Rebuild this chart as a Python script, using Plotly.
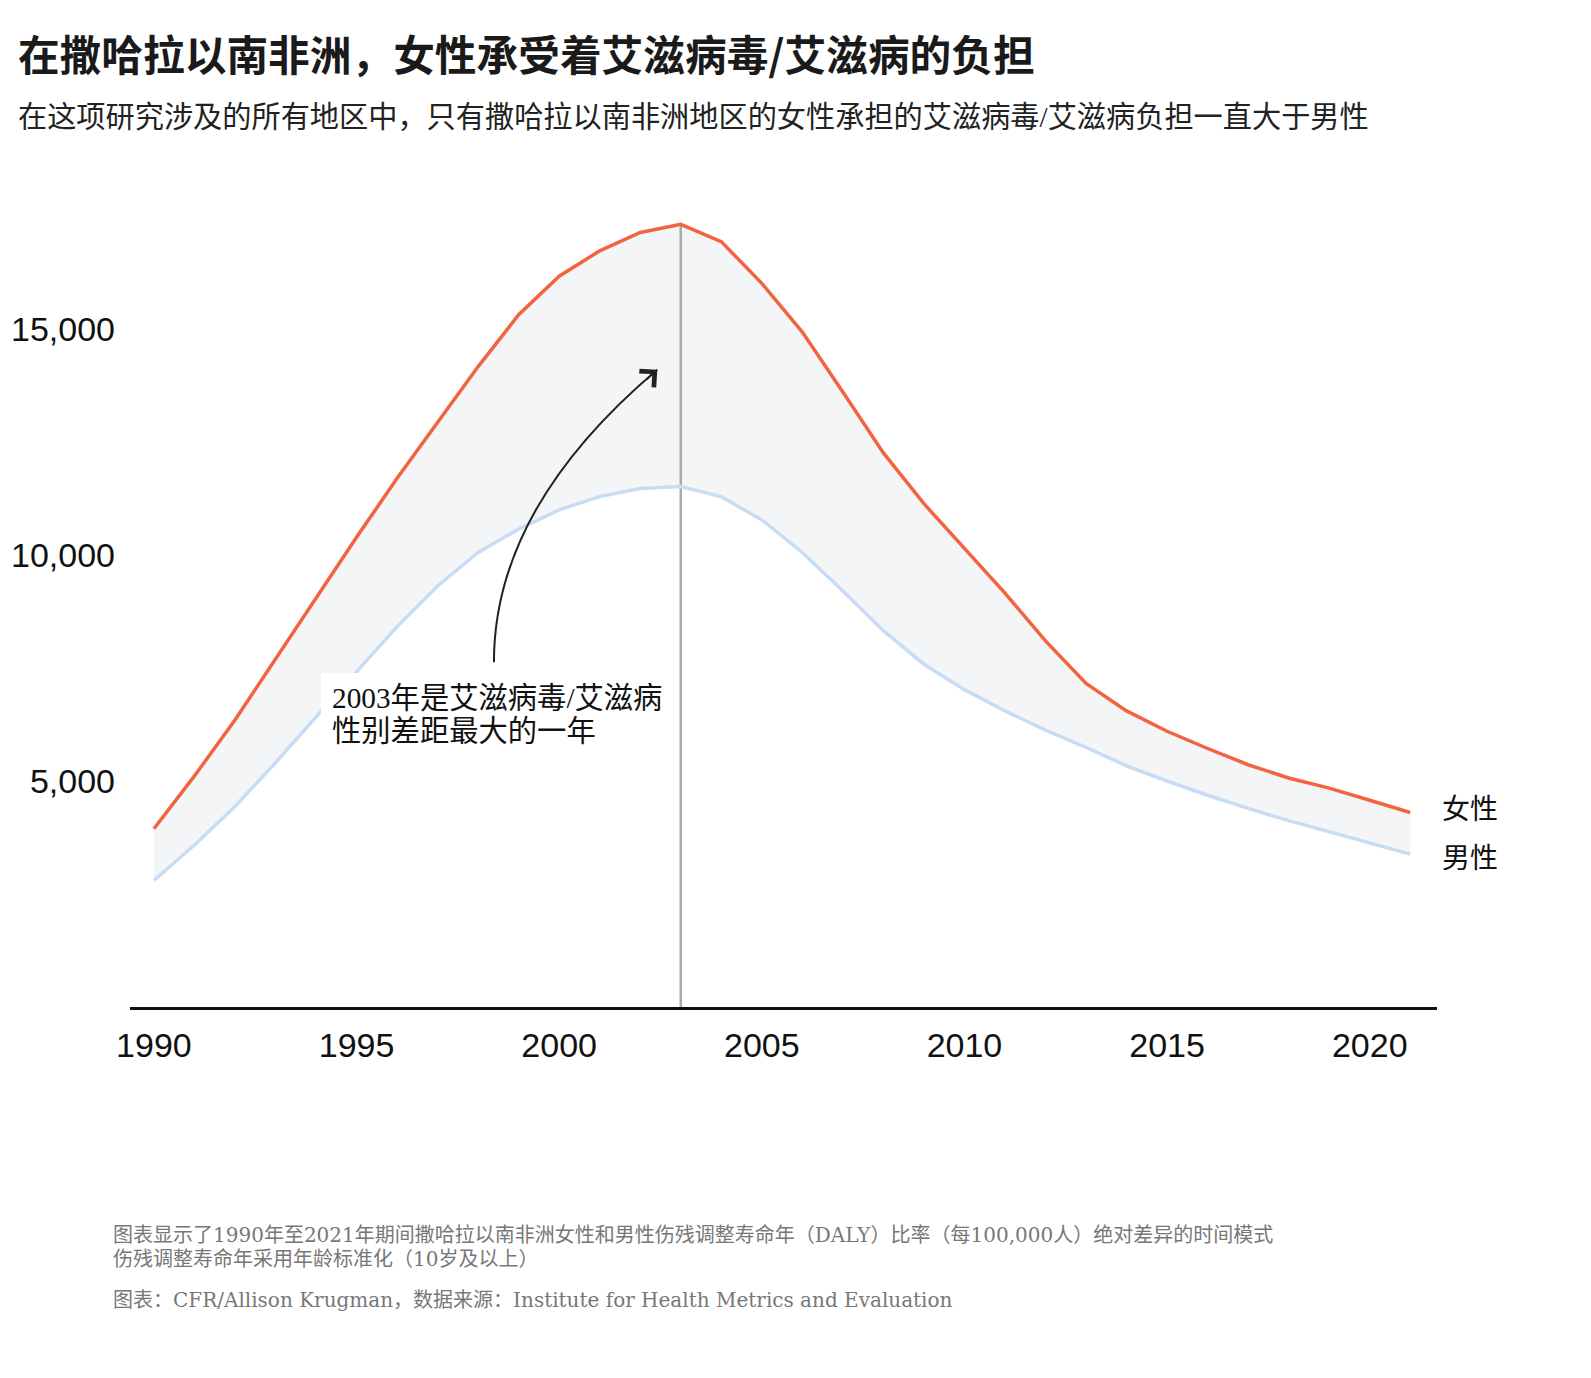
import plotly.graph_objects as go

# ---------------- data ----------------
years = list(range(1990, 2022))
female = [3944, 5112, 6348, 7697, 9045, 10393, 11697, 12933, 14169, 15315,
          16169, 16730, 17135, 17315, 16933, 16011, 14933, 13607, 12258, 11135,
          10146, 9157, 8101, 7157, 6551, 6101, 5719, 5360, 5067, 4843,
          4573, 4303]
male = [2798, 3584, 4438, 5404, 6416, 7427, 8416, 9315, 10056, 10573,
        11000, 11292, 11472, 11517, 11292, 10775, 10056, 9202, 8326, 7584,
        7022, 6551, 6124, 5742, 5337, 5000, 4685, 4393, 4124, 3876,
        3629, 3382]
peak_year = 2003
ytick_vals = [5000, 10000, 15000]
ytick_text = ["5,000", "10,000", "15,000"]
xtick_vals = [1990, 1995, 2000, 2005, 2010, 2015, 2020]
xtick_text = ["1990", "1995", "2000", "2005", "2010", "2015", "2020"]
series_labels = ["女性", "男性"]

title = "在撒哈拉以南非洲，女性承受着艾滋病毒/艾滋病的负担"
subtitle = "在这项研究涉及的所有地区中，只有撒哈拉以南非洲地区的女性承担的艾滋病毒/艾滋病负担一直大于男性"
note_lines = ["2003年是艾滋病毒/艾滋病", "性别差距最大的一年"]
foot_lines = [
    "图表显示了1990年至2021年期间撒哈拉以南非洲女性和男性伤残调整寿命年（DALY）比率（每100,000人）绝对差异的时间模式",
    "伤残调整寿命年采用年龄标准化（10岁及以上）",
    "图表：CFR/Allison Krugman，数据来源：Institute for Health Metrics and Evaluation",
]

# ---------------- layout geometry ----------------
W, H = 1591, 1378
L, R, T, B = 130, 154, 195, 371
PW, PH = W - L - R, H - T - B


def px(x):
    return (x - L) / PW


def py(y):
    return 1 - (y - T) / PH


SERIF = "Liberation Serif, Noto Sans CJK SC, serif"
FOOT = "DejaVu Serif, Noto Sans CJK SC, serif"
CJK = "Noto Sans CJK SC, sans-serif"
TICK = "Liberation Sans, Arial, sans-serif"

RED = "#f26440"
BLUE = "#c7ddf4"
FILL = "#f4f5f7"

fig = go.Figure()
fig.add_trace(go.Scatter(x=years, y=male, mode="lines", line=dict(width=0, color=BLUE),
                         hoverinfo="skip", showlegend=False))
fig.add_trace(go.Scatter(x=years, y=female, mode="lines", line=dict(width=0, color=RED),
                         fill="tonexty", fillcolor=FILL, hoverinfo="skip", showlegend=False))
peak_val = female[years.index(peak_year)]
fig.add_trace(go.Scatter(x=[peak_year, peak_year], y=[0, peak_val], mode="lines",
                         line=dict(width=2.5, color="#aaaaaa"), showlegend=False))
fig.add_trace(go.Scatter(x=years, y=male, mode="lines", name=series_labels[1],
                         line=dict(width=3.5, color=BLUE), showlegend=False))
fig.add_trace(go.Scatter(x=years, y=female, mode="lines", name=series_labels[0],
                         line=dict(width=3.5, color=RED), showlegend=False))

# curved arrow (data coordinates)
x0, y0 = 1998.39, 7629
cx, cy = 1998.39, 11045
x1, y1 = 2002.42, 14101
shapes = [
    dict(type="path", xref="x", yref="y",
         path=f"M {x0},{y0} Q {cx},{cy} {x1},{y1}",
         line=dict(color="#222222", width=2)),
    dict(type="rect", xref="paper", yref="paper", layer="above",
         x0=px(321), x1=px(678), y0=py(760), y1=py(673),
         fillcolor="white", line=dict(width=0)),
]

annotations = [
    dict(x=x1, y=y1, ax=x1 - 0.3, ay=y1 - 240, xref="x", yref="y", axref="x", ayref="y",
         text="", showarrow=True, arrowhead=4, arrowsize=2.1, arrowwidth=2,
         arrowcolor="#222222"),
    dict(x=px(16), y=py(53), xref="paper", yref="paper", xanchor="left", yanchor="middle",
         text=f"<b>{title}</b>", showarrow=False,
         font=dict(family=CJK, size=41.7, color="#1a1a1a")),
    dict(x=px(16), y=py(117), xref="paper", yref="paper", xanchor="left", yanchor="middle",
         text=subtitle, showarrow=False,
         font=dict(family=SERIF, size=29.2, color="#222222")),
]
for i, line in enumerate(note_lines):
    annotations.append(dict(x=px(330), y=py(698 + 33 * i), xref="paper", yref="paper",
                            xanchor="left", yanchor="middle", text=line, showarrow=False,
                            font=dict(family=SERIF, size=29.3, color="#111111")))
label_y = [809, 858]
for lab, yy in zip(series_labels, label_y):
    annotations.append(dict(x=px(1440), y=py(yy), xref="paper", yref="paper",
                            xanchor="left", yanchor="middle", text=lab, showarrow=False,
                            font=dict(family=SERIF, size=28, color="#111111")))
foot_y = [1235, 1259, 1300]
for line, yy in zip(foot_lines, foot_y):
    annotations.append(dict(x=px(111), y=py(yy), xref="paper", yref="paper",
                            xanchor="left", yanchor="middle", text=line, showarrow=False,
                            font=dict(family=FOOT, size=20, color="#777777")))

fig.update_layout(
    width=W, height=H,
    margin=dict(l=L, r=R, t=T, b=B, pad=0),
    paper_bgcolor="white", plot_bgcolor="white",
    showlegend=False,
    shapes=shapes, annotations=annotations,
    xaxis=dict(range=[1989.41, 2021.66], tickvals=xtick_vals, ticktext=xtick_text,
               showgrid=False, zeroline=False, showline=True, linecolor="#111111",
               linewidth=3, ticks="", ticklabelstandoff=6,
               tickfont=dict(family=TICK, size=34, color="#111111")),
    yaxis=dict(range=[0, 17965], tickvals=ytick_vals, ticktext=ytick_text,
               showgrid=False, zeroline=False, showline=False, ticks="",
               ticklabelstandoff=14,
               tickfont=dict(family=TICK, size=34, color="#111111")),
)

fig.write_html("out.html")
